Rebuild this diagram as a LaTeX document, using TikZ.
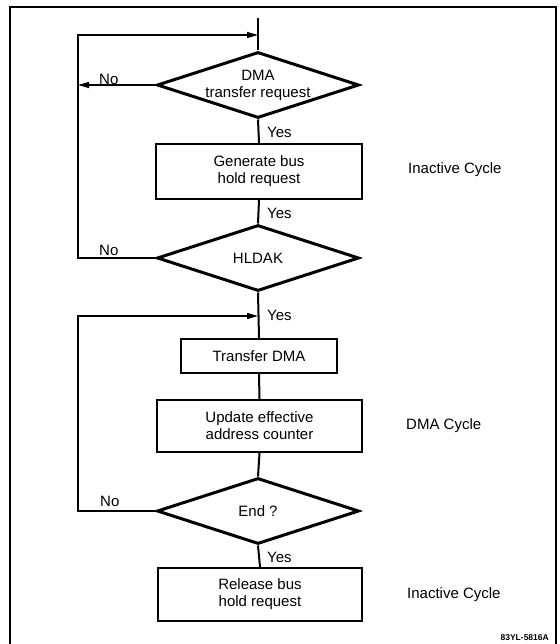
\documentclass[tikz,border=0pt]{standalone}
\usepackage{fontspec}
\setmainfont{Liberation Sans}
\usetikzlibrary{shapes.geometric,arrows.meta}
\begin{document}
\begin{tikzpicture}[x=1pt,y=-1pt,
  every node/.style={font=\fontsize{15}{17}\selectfont},
  dia/.style={draw,diamond,line width=3pt,minimum width=202pt,minimum height=66pt,inner sep=0pt},
  boxx/.style={draw,rectangle,line width=2.2pt,inner sep=0pt,align=center},
  conn/.style={line width=2pt},
  loopline/.style={line width=1.3pt},
  arr/.style={-{Triangle[length=11pt,width=6pt]}},
  lab/.style={anchor=west,inner sep=0pt},
  side/.style={anchor=west,inner sep=0pt}
]
\useasboundingbox (0,0) rectangle (559,644);
\draw[line width=1.4pt] (10,700) -- (10,7) -- (556,7) -- (556,700);

\node[dia,label={[align=center,font=\fontsize{15}{17}\selectfont]center:DMA\\transfer request}] (d1) at (258,85) {};
\node[boxx,minimum width=206pt,minimum height=55pt] (b1) at (259,171.5) {Generate bus\\hold request};
\node[dia] (d2) at (258,258) {HLDAK};
\node[boxx,minimum width=156pt,minimum height=34pt] (b2) at (259,356) {Transfer DMA};
\node[boxx,minimum width=205pt,minimum height=52pt] (b3) at (259.5,426) {Update effective\\address counter};
\node[dia] (d3) at (258,511) {End ?};
\node[boxx,minimum width=204pt,minimum height=53pt] (b4) at (260,594.5) {Release bus\\hold request};

\coordinate (top) at (258,18);
\coordinate (in1) at (258,35);
\coordinate (in2) at (258,316);
\coordinate (l1) at (78,85);
\coordinate (l2) at (78,258);
\coordinate (l2t) at (78,35);
\coordinate (l3) at (78,511);
\coordinate (l3t) at (78,316);

\draw[conn] (top) -- (d1.north);
\draw[conn] (d1.south) -- (b1.north);
\draw[conn] (b1.south) -- (d2.north);
\draw[conn] (d2.south) -- (b2.north);
\draw[conn] (b2.south) -- (b3.north);
\draw[conn] (b3.south) -- (d3.north);
\draw[conn] (d3.south) -- (b4.north);

\draw[loopline,arr] (d1.west) -- (l1);
\draw[loopline,arr] (d2.west) -- (l2) -- (l2t) -- (in1);
\draw[loopline,arr] (d3.west) -- (l3) -- (l3t) -- (in2);

\node[lab] (no1) at (99,79) {No};
\node[lab] (no2) at (99,250) {No};
\node[lab] (no3) at (100,501) {No};
\node[lab] (y1) at (267,132) {Yes};
\node[lab] (y2) at (267,213) {Yes};
\node[lab] (y3) at (267,315) {Yes};
\node[lab] (y4) at (267,557) {Yes};

\node[side] (s1) at (408,170) {Inactive Cycle};
\node[side] (s2) at (406,426) {DMA Cycle};
\node[side] (s3) at (407,595) {Inactive Cycle};
\node[anchor=east,inner sep=0pt,font=\fontsize{8.5}{10}\selectfont\bfseries] (ref) at (549,638) {83YL-5816A};
\end{tikzpicture}
\end{document}
